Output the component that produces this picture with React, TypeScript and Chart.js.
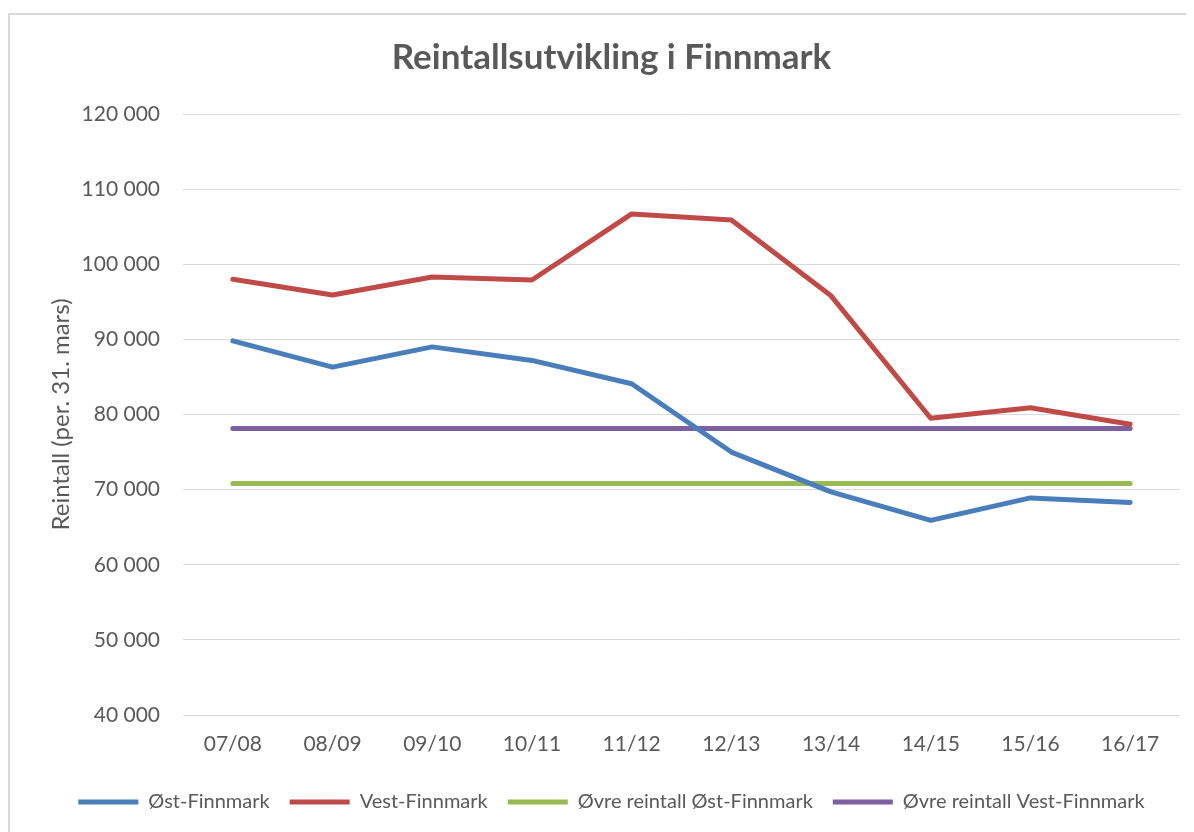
import React, { useEffect, useRef } from "react";
import { Chart, registerables } from "chart.js";

Chart.register(...registerables);

const categories = ["07/08", "08/09", "09/10", "10/11", "11/12", "12/13", "13/14", "14/15", "15/16", "16/17"];
const ostFinnmark = [89800, 86300, 89000, 87200, 84100, 75000, 69700, 65900, 68900, 68300];
const vestFinnmark = [98000, 95900, 98300, 97900, 106700, 105900, 95800, 79500, 80900, 78700];
const ovreOst = [70800, 70800, 70800, 70800, 70800, 70800, 70800, 70800, 70800, 70800];
const ovreVest = [78150, 78150, 78150, 78150, 78150, 78150, 78150, 78150, 78150, 78150];
const yTicksMin = 40000;
const yTicksMax = 120000;
const yStep = 10000;

const seriesNames = ["Øst-Finnmark", "Vest-Finnmark", "Øvre reintall Øst-Finnmark", "Øvre reintall Vest-Finnmark"];
const colors = ["#4A7EBB", "#BE4B48", "#98B954", "#7D60A0"];

const W = 1184;
const H = 817;

function fmt(v: number) {
  return String(v).replace(/\B(?=(\d{3})+(?!\d))/g, " ");
}

export default function App() {
  const ref = useRef<HTMLCanvasElement | null>(null);
  useEffect(() => {
    if (!ref.current) return;
    const font = "Lato, 'Open Sans', sans-serif";
    const values = [ostFinnmark, vestFinnmark, ovreOst, ovreVest];
    const chart = new Chart(ref.current, {
      type: "line",
      data: {
        labels: categories,
        datasets: values.map((d, i) => ({
          label: seriesNames[i],
          data: d,
          borderColor: colors[i],
          backgroundColor: colors[i],
          borderWidth: 5,
          pointRadius: 0,
          tension: 0,
          borderCapStyle: "round" as const,
          borderJoinStyle: "round" as const,
        })),
      },
      options: {
        responsive: false,
        animation: false,
        layout: { padding: { left: 33, right: 14, top: 0, bottom: 10 } },
        font: { family: font },
        plugins: {
          title: {
            display: true,
            text: "Reintallsutvikling i Finnmark",
            color: "#595959",
            font: { family: font, size: 35, weight: "bold" },
            padding: { top: 22, bottom: 35 },
          },
          legend: {
            position: "bottom",
            labels: {
              color: "#595959",
              font: { family: font, size: 20 },
              boxWidth: 60,
              boxHeight: 5,
              padding: 20,
              generateLabels: (c: any) =>
                Chart.defaults.plugins.legend.labels.generateLabels(c).map((it: any) => ({
                  ...it,
                  fillStyle: it.strokeStyle,
                  lineWidth: 0,
                })),
            },
          },
          tooltip: { enabled: false },
        },
        scales: {
          x: {
            offset: true,
            grid: { display: false, drawTicks: false },
            border: { display: false },
            ticks: { color: "#595959", font: { family: font, size: 21 }, padding: 17, maxRotation: 0 },
            afterFit: (s: any) => {
              s.height = 57;
            },
          },
          y: {
            min: yTicksMin,
            max: yTicksMax,
            grid: { color: "#d9d9d9", lineWidth: 1, drawTicks: false },
            border: { display: false },
            ticks: {
              stepSize: yStep,
              color: "#595959",
              font: { family: font, size: 21 },
              padding: 23,
              callback: (v: any) => fmt(Number(v)),
            },
            title: {
              display: true,
              text: "Reintall (per. 31. mars)",
              color: "#595959",
              font: { family: font, size: 24 },
              padding: { top: 4, bottom: 0 },
            },
            afterFit: (s: any) => {
              s.width = 140;
            },
          },
        },
      },
    });
    return () => chart.destroy();
  }, []);
  return (
    <div
      style={{
        marginTop: 5,
        borderTop: "2px solid #d9d9d9",
        borderLeft: "2px solid #d9d9d9",
        width: W,
        height: H,
        background: "#fff",
        overflow: "hidden",
      }}
    >
      <canvas ref={ref} width={W} height={H} style={{ display: "block" }} />
    </div>
  );
}
